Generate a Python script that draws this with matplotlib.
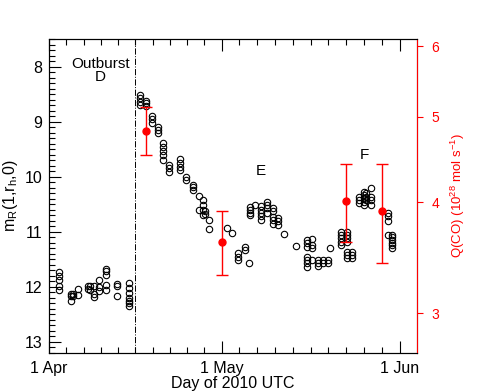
import matplotlib
matplotlib.use('Agg')
import matplotlib.pyplot as plt
import numpy as np
from matplotlib.ticker import MultipleLocator, FixedLocator, NullLocator

plt.rcParams['font.family'] = ['Liberation Sans', 'DejaVu Sans']
plt.rcParams['mathtext.fontset'] = 'custom'
plt.rcParams['mathtext.rm'] = 'Liberation Sans'
plt.rcParams['mathtext.it'] = 'Liberation Sans'

# nightly photometry: day since 1 Apr 2010 0h UTC, and R magnitudes
night_day = [1.8, 3.8, 4.1, 5.0, 6.8, 7.1, 7.9, 8.75, 9.9, 11.9, 13.9,
             15.8, 16.8, 17.9, 18.9, 19.9, 20.9, 22.8, 23.9, 25.0, 26.0,
             26.8, 27.1, 27.9, 30.9, 31.8, 32.8, 34.0, 34.8, 35.0, 35.8,
             36.9, 37.9, 38.9, 39.8, 40.9, 42.9, 44.8, 45.8, 46.8, 47.7,
             48.6, 48.9, 50.8, 51.9, 52.7, 53.9, 54.7, 55.2, 56.0, 58.9,
             59.7]
night_mag = [
    [11.73, 11.81, 11.87, 11.99, 12.05],
    [12.13, 12.17, 12.25],
    [12.16, 12.12],
    [12.04, 12.14],
    [11.99, 12.03],
    [11.99, 12.06],
    [11.98, 12.12, 12.18],
    [11.87, 12.0, 12.07],
    [11.67, 11.72, 11.78, 11.96, 12.05],
    [11.95, 11.99, 12.16],
    [11.93, 12.02, 12.11, 12.2, 12.25, 12.29, 12.34],
    [8.52, 8.58, 8.64, 8.70],
    [8.62, 8.67, 8.72],
    [8.90, 8.96, 9.02],
    [9.10, 9.15, 9.20],
    [9.38, 9.46, 9.53, 9.61, 9.70],
    [9.79, 9.85, 9.91],
    [9.67, 9.75, 9.82, 9.88],
    [10.0, 10.06],
    [10.15, 10.19, 10.24],
    [10.35, 10.6],
    [10.42, 10.51, 10.6, 10.69],
    [10.62, 10.68],
    [10.78, 10.95],
    [10.93],
    [11.03],
    [11.39, 11.45, 11.51],
    [11.27, 11.33],
    [11.57],
    [10.55, 10.6, 10.65, 10.7],
    [10.51],
    [10.54, 10.6, 10.66, 10.72, 10.78],
    [10.45, 10.51, 10.57, 10.66],
    [10.57, 10.63, 10.74, 10.78, 10.86],
    [10.75, 10.81, 10.87],
    [11.04],
    [11.25],
    [11.15, 11.21, 11.27, 11.45, 11.51, 11.57, 11.63],
    [11.13, 11.24, 11.3, 11.51],
    [11.51, 11.57, 11.62],
    [11.51, 11.57],
    [11.51, 11.57],
    [11.3],
    [11.0, 11.06, 11.12, 11.18, 11.24],
    [11.0, 11.06, 11.12, 11.18, 11.36, 11.42, 11.48],
    [11.36, 11.42, 11.48],
    [10.36, 10.42, 10.48],
    [10.27, 10.33, 10.39, 10.45, 10.51],
    [10.30, 10.36, 10.42],
    [10.21, 10.36, 10.42, 10.51],
    [10.66, 10.72, 10.81, 11.06],
    [11.06, 11.1, 11.15, 11.2, 11.24, 11.3],
]

# CO production rates (10^28 mol/s)
q_day = [16.9, 30.0, 51.65, 57.85]
q_val = [4.82, 3.61, 4.02, 3.91]
q_lo = [4.52, 3.31, 3.61, 3.42]
q_hi = [5.12, 3.91, 4.42, 4.42]

outburst_day = 15.0
labels = ['Outburst\nD', 'E', 'F']
label_day = [8.9, 36.8, 54.8]
label_mag = [8.07, 9.9, 9.6]


def main():
    fig = plt.figure(figsize=(4.91, 3.92), dpi=100)
    ax = fig.add_axes([0.0998, 0.0995, 0.7495, 0.801])

    xs = np.concatenate([[d] * len(m) for d, m in zip(night_day, night_mag)])
    ys = np.concatenate(night_mag)
    ax.plot(xs, ys, 'o', ms=4.6, mfc='none', mec='k', mew=0.8, zorder=3)

    ax.axvline(outburst_day, color='k', ls='-.', lw=0.7)
    for t, x, y in zip(labels, label_day, label_mag):
        ax.text(x, y, t, ha='center', va='center', fontsize=11,
                linespacing=0.9)

    ax.set_xlim(0, 64)
    ax.set_ylim(13.2, 7.5)
    ax.xaxis.set_major_locator(FixedLocator([0, 30, 61]))
    ax.set_xticklabels(['1 Apr', '1 May', '1 Jun'])
    ax.xaxis.set_minor_locator(FixedLocator(
        np.concatenate([np.linspace(0, 30, 11), np.linspace(30, 61, 11)])))
    ax.yaxis.set_major_locator(MultipleLocator(1))
    ax.yaxis.set_minor_locator(MultipleLocator(0.1))
    ax.tick_params(which='both', direction='in', top=True, right=True,
                   labelsize=11.5)
    ax.tick_params(which='major', length=8.6, width=0.8)
    ax.tick_params(which='minor', length=4.3, width=0.8)
    ax.tick_params(axis='x', pad=6)
    ax.tick_params(axis='y', pad=5)
    ax.set_xlabel('Day of 2010 UTC', fontsize=11.5, labelpad=0)
    ax.set_ylabel(r'm$_{\rm R}$(1,r$_{\rm h}$,0)', fontsize=11.5, labelpad=3)

    ax2 = ax.twinx()
    ax2.set_yscale('log')
    ax2.set_ylim(2.706, 6.115)
    ax2.yaxis.set_major_locator(FixedLocator([3, 4, 5, 6]))
    ax2.yaxis.set_minor_locator(NullLocator())
    ax2.set_yticklabels(['3', '4', '5', '6'])
    ax2.tick_params(axis='y', direction='out', colors='red', length=4.3,
                    width=0.8, labelsize=10, pad=6)
    ax2.spines['right'].set_color('red')
    err = [np.subtract(q_val, q_lo), np.subtract(q_hi, q_val)]
    ax2.errorbar(q_day, q_val, yerr=err, fmt='o', color='red', ms=5,
                 capsize=4, elinewidth=1, capthick=1, zorder=2)
    ax2.set_ylabel(r'Q(CO) (10$^{28}$ mol s$^{-1}$)', color='red',
                   fontsize=9.5, labelpad=7)

    fig.savefig('out.png', dpi=100)


if __name__ == "__main__":
    main()
